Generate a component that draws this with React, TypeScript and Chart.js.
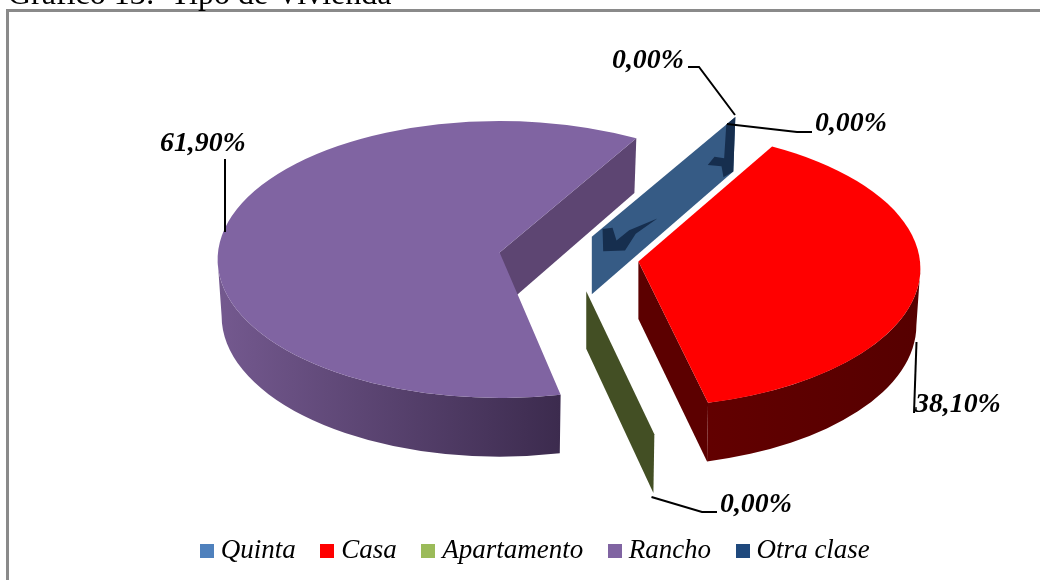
import React, { useEffect, useRef } from "react";
import { Chart, registerables } from "chart.js";

Chart.register(...registerables);

const titleText = "Gráfico 13:  Tipo de Vivienda";
const categories = ["Quinta", "Casa", "Apartamento", "Rancho", "Otra clase"];
const shares = [0, 38.1, 0, 61.9, 0];
const valueLabels = ["0,00%", "38,10%", "0,00%", "61,90%", "0,00%"];
const legendColors = ["#4F81BD", "#FF0000", "#9BBB59", "#8064A2", "#1F497D"];
const topColors = ["#365B85", "#FF0000", "#434F24", "#8064A2", "#162E4E"];
const cutColors = ["#365B85", "#5C0000", "#434F24", "#5D4572", "#162E4E"];
const explode = [47, 70, 72, 70, 47];
// Perspective corrections of the projected slices (degrees, radial factor)
const startNudge = [0, -0.7, 0, 1.34, 0];
const endNudge = [0, -0.46, 0, 0, 0];
const reach = [1.05, 1, 1.01, 1, 1.05];
// label anchor [x, y] and leader polylines are styling of the annotation layer
const labelAnchors = [
  [815, 123.5],
  [915, 404.5],
  [720, 504.5],
  [160, 143.5],
  [612, 60.5],
];
const leaders = [
  [[727, 124], [797, 132], [812, 132]],
  [[916.5, 342], [914, 413]],
  [[651.5, 497], [702, 512], [717, 512]],
  [[225, 232], [225, 159]],
  [[735, 115], [699, 67], [688, 67]],
];
// Dark artefact patches on the zero wall, as (along radius, down depth) fractions
const patches = [
  [[0.075, 0.02], [0.145, 0.147], [0.173, 0.43], [0.262, 0.44], [0.461, 0.66], [0.309, 0.6], [0.234, 0.735], [0.08, 0.42]],
  [[0.937, 0], [1, 0], [1, 1], [0.93, 0.95], [0.913, 0.71], [0.813, 0.465], [0.86, 0.42], [0.93, 0.6]],
];

const PIE_CX = 569;
const PIE_CY = 264;
const RX = 282;
const RY = 138.5;
const RX_LOW = 278;
const RY_LOW = 140.7;
const DEPTH = 56.5;
const APEX_LIFT = 7;
const APEX_DEPTH = 57.5;
const SERIF = '"Liberation Serif", serif';
const DEG = Math.PI / 180;

type Geo = { a0: number; a1: number; cx: number; cy: number; k: number };

function geometry(arc: any, i: number): Geo {
  const mid = (arc.startAngle + arc.endAngle) / 2;
  const d = explode[i];
  return {
    a0: arc.startAngle + startNudge[i] * DEG,
    a1: arc.endAngle + endNudge[i] * DEG,
    cx: PIE_CX + Math.cos(mid) * d,
    cy: PIE_CY + (Math.sin(mid) * d * RY) / RX,
    k: reach[i],
  };
}
const apexT = (g: Geo) => [g.cx, g.cy - APEX_LIFT];
const apexB = (g: Geo) => [g.cx, g.cy - APEX_LIFT + APEX_DEPTH];
const along = (a: number[], b: number[], k: number) => [a[0] + (b[0] - a[0]) * k, a[1] + (b[1] - a[1]) * k];
const top = (g: Geo, a: number) => along(apexT(g), [g.cx + RX * Math.cos(a), g.cy + RY * Math.sin(a)], g.k);
const low = (g: Geo, a: number) =>
  along(apexB(g), [g.cx + RX_LOW * Math.cos(a), g.cy + DEPTH + RY_LOW * Math.sin(a)], g.k);

function poly(ctx: CanvasRenderingContext2D, pts: number[][], fill: string) {
  ctx.beginPath();
  pts.forEach((p, k) => (k ? ctx.lineTo(p[0], p[1]) : ctx.moveTo(p[0], p[1])));
  ctx.closePath();
  ctx.fillStyle = fill;
  ctx.fill();
}

function cutWall(ctx: CanvasRenderingContext2D, g: Geo, a: number, fill: string) {
  poly(ctx, [apexT(g), top(g, a), low(g, a), apexB(g)], fill);
}

function outerWall(ctx: CanvasRenderingContext2D, g: Geo, from: number, to: number, fill: any) {
  ctx.beginPath();
  ctx.ellipse(g.cx, g.cy, RX, RY, 0, from, to);
  ctx.ellipse(g.cx, g.cy + DEPTH, RX_LOW, RY_LOW, 0, to, from, true);
  ctx.closePath();
  ctx.fillStyle = fill;
  ctx.fill();
}

const pie3d = {
  id: "pie3d",
  beforeDatasetDraw(chart: any) {
    const ctx: CanvasRenderingContext2D = chart.ctx;
    const arcs = chart.getDatasetMeta(0).data;
    const g = arcs.map((a: any, i: number) => geometry(a, i));
    ctx.save();

    // Rancho back cut face
    cutWall(ctx, g[3], g[3].a1, cutColors[3]);
    // Zero slices: only their cut faces exist
    cutWall(ctx, g[0], g[0].a0, topColors[0]);
    const w = g[4];
    const A = apexT(w);
    const B = top(w, w.a0);
    const C = low(w, w.a0);
    const D = apexB(w);
    patches.forEach((p) => {
      poly(
        ctx,
        p.map(([u, v]) => along(along(A, B, u), along(D, C, u), v)),
        topColors[4]
      );
    });
    cutWall(ctx, g[2], g[2].a0, topColors[2]);
    // Casa cut face at its far end, then its rim
    cutWall(ctx, g[1], g[1].a1, cutColors[1]);
    const casaGrad = ctx.createLinearGradient(g[1].cx, 0, g[1].cx + RX, 0);
    casaGrad.addColorStop(0, "#660000");
    casaGrad.addColorStop(1, "#560000");
    outerWall(ctx, g[1], 0, g[1].a1, casaGrad);
    // Rancho rim
    const ranchoGrad = ctx.createLinearGradient(g[3].cx - RX, 0, top(g[3], g[3].a0)[0], 0);
    ranchoGrad.addColorStop(0, "#74598F");
    ranchoGrad.addColorStop(1, "#3C2B4E");
    outerWall(ctx, g[3], g[3].a0, Math.PI, ranchoGrad);

    // Top faces, from each arc element's own angles and colour
    [3, 1].forEach((i) => {
      const arc = arcs[i];
      ctx.beginPath();
      ctx.moveTo(g[i].cx, g[i].cy - APEX_LIFT);
      ctx.ellipse(g[i].cx, g[i].cy, RX, RY, 0, g[i].a0, g[i].a1);
      ctx.closePath();
      ctx.fillStyle = arc.options.backgroundColor;
      ctx.fill();
    });
    ctx.restore();
    return false;
  },
  afterDraw(chart: any) {
    const ctx: CanvasRenderingContext2D = chart.ctx;
    ctx.save();
    // Frame (its right and bottom sides fall outside the picture)
    ctx.strokeStyle = "#8A8A8A";
    ctx.lineWidth = 3;
    ctx.strokeRect(7.5, 10.5, 1060, 620);
    // Title, cropped by the top of the picture
    ctx.fillStyle = "#000000";
    ctx.textBaseline = "alphabetic";
    ctx.textAlign = "left";
    ctx.font = `32px ${SERIF}`;
    ctx.fillText(titleText, 8, 4);
    // Leaders
    ctx.strokeStyle = "#000000";
    ctx.lineWidth = 2;
    leaders.forEach((l) => {
      ctx.beginPath();
      l.forEach((p, k) => (k ? ctx.lineTo(p[0], p[1]) : ctx.moveTo(p[0], p[1])));
      ctx.stroke();
    });
    // Value labels
    ctx.font = `italic bold 27.8px ${SERIF}`;
    ctx.textBaseline = "middle";
    valueLabels.forEach((t, i) => ctx.fillText(t, labelAnchors[i][0], labelAnchors[i][1]));
    ctx.restore();
  },
};

function swatch(color: string) {
  const c = document.createElement("canvas");
  c.width = 14;
  c.height = 14;
  const x = c.getContext("2d")!;
  x.fillStyle = color;
  x.fillRect(0, 0, 14, 14);
  return c;
}

export default function App() {
  const ref = useRef<HTMLCanvasElement>(null);
  useEffect(() => {
    document.body.style.margin = "0";
    document.body.style.background = "#fff";
    const chart = new Chart(ref.current!, {
      type: "pie",
      data: {
        labels: categories,
        datasets: [
          {
            data: shares,
            backgroundColor: legendColors,
            borderWidth: 0,
            radius: RX,
          } as any,
        ],
      },
      options: {
        responsive: false,
        animation: false,
        rotation: 29,
        layout: { padding: { left: 36, bottom: 6 } },
        plugins: {
          tooltip: { enabled: false },
          title: { display: false },
          legend: {
            position: "bottom",
            labels: {
              font: { family: SERIF, size: 27, style: "italic" },
              color: "#000000",
              boxWidth: 1,
              boxHeight: 14,
              usePointStyle: true,
              padding: 31,
              generateLabels: (c: any) =>
                (Chart as any).overrides.pie.plugins.legend.labels
                  .generateLabels(c)
                  .map((it: any, i: number) => ({ ...it, pointStyle: swatch(legendColors[i]) })),
            },
          },
        },
      },
      plugins: [pie3d as any],
    });
    return () => chart.destroy();
  }, []);
  return (
    <div style={{ width: 1040, height: 580, overflow: "hidden", position: "fixed", left: 0, top: 0 }}>
      <canvas ref={ref} width={1040} height={580} style={{ display: "block" }} />
    </div>
  );
}
